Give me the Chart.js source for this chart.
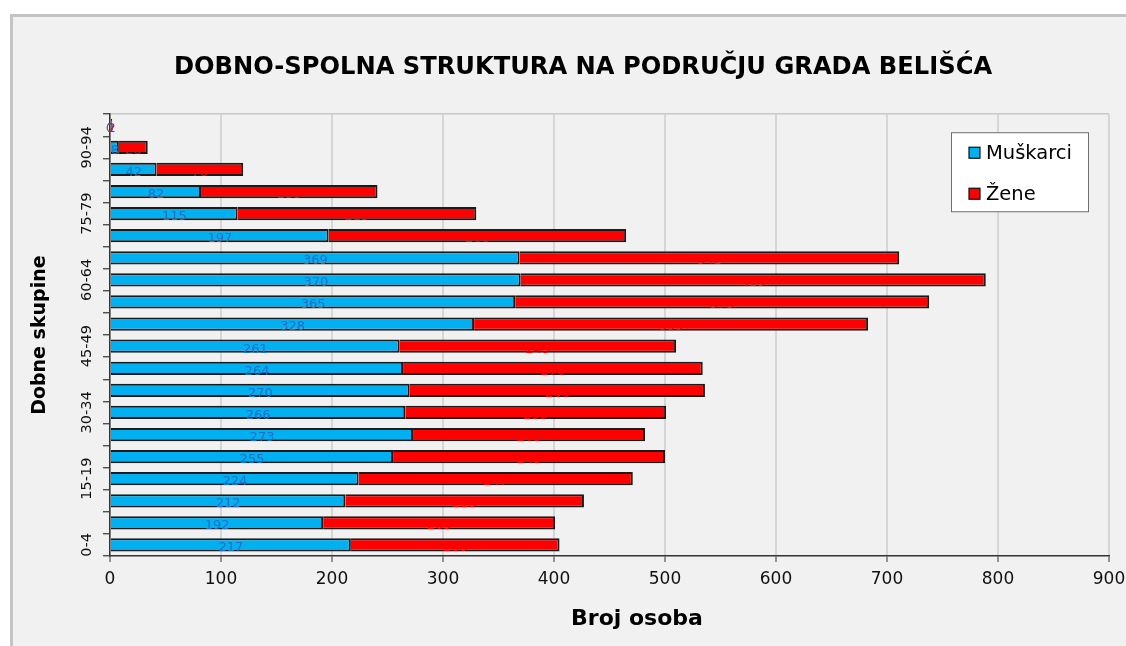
<!DOCTYPE html>
<html>
<head>
<meta charset="utf-8">
<script src="https://cdn.jsdelivr.net/npm/chart.js@4/dist/chart.umd.min.js"></script>
<style>
  html, body { margin: 0; padding: 0; background: #ffffff; }
  #wrap { position: relative; width: 1126px; height: 646px; overflow: hidden; }
  #frame { position: absolute; left: 10px; top: 14px; width: 1200px; height: 700px;
           border-left: 3px solid #c4c4c4; border-top: 3px solid #c4c4c4; background: #f1f1f1; }
  #box { position: absolute; left: 0; top: 0; width: 1126px; height: 646px; }
</style>
</head>
<body>
<div id="wrap">
  <div id="frame"></div>
  <div id="box"><canvas id="c"></canvas></div>
</div>
<script>
const categories = ['0-4','5-9','10-14','15-19','20-24','25-29','30-34','35-39','40-44','45-49',
                    '50-54','55-59','60-64','65-69','70-74','75-79','80-84','85-89','90-94','95+'];
const muskarci = [217,192,212,224,255,273,266,270,264,261,328,365,370,369,197,115,82,42,8,0];
const zene     = [188,209,215,247,245,209,235,266,270,249,355,373,419,342,268,215,159,78,26,2];
const seriesNames = ['Muškarci', 'Žene'];
const xTicks = [0,100,200,300,400,500,600,700,800,900];
const chartTitle = 'DOBNO-SPOLNA STRUKTURA NA PODRUČJU GRADA BELIŠĆA';
const xTitle = 'Broj osoba';
const yTitle = 'Dobne skupine';

const FONT = "'DejaVu Sans', Verdana, sans-serif";
const labelColors = ['#1f6fc4', '#ff0000'];

const barLabels = {
  id: 'barLabels',
  afterDatasetsDraw(chart) {
    const ctx = chart.ctx;
    ctx.save();
    ctx.font = '13px ' + FONT;
    ctx.textAlign = 'center';
    ctx.textBaseline = 'middle';
    chart.data.datasets.forEach((ds, di) => {
      const meta = chart.getDatasetMeta(di);
      meta.data.forEach((el, i) => {
        const p = el.getProps(['x', 'y', 'base'], true);
        ctx.fillStyle = labelColors[di];
        ctx.fillText(String(ds.data[i]), (p.x + p.base) / 2, p.y + 3);
      });
    });
    ctx.restore();
  }
};

const boxLegend = {
  id: 'boxLegend',
  afterDraw(chart) {
    const ctx = chart.ctx;
    const a = chart.chartArea;
    const w = 137, h = 79;
    const x0 = a.right - 20.5 - w, y0 = a.top + 18.5;
    ctx.save();
    ctx.fillStyle = '#ffffff';
    ctx.fillRect(x0, y0, w, h);
    ctx.strokeStyle = '#6f6f6f';
    ctx.lineWidth = 1;
    ctx.strokeRect(x0, y0, w, h);
    ctx.font = '19.5px ' + FONT;
    ctx.textBaseline = 'middle';
    ctx.textAlign = 'left';
    chart.data.datasets.forEach((ds, i) => {
      const cy = y0 + 20 + i * 41;
      ctx.fillStyle = ds.backgroundColor;
      ctx.fillRect(x0 + 17.5, cy - 5.5, 11, 11);
      ctx.strokeStyle = '#111';
      ctx.lineWidth = 1.2;
      ctx.strokeRect(x0 + 17.5, cy - 5.5, 11, 11);
      ctx.fillStyle = '#000';
      ctx.fillText(ds.label, x0 + 34.5, cy + 1);
    });
    ctx.restore();
  }
};

// shift the x-axis title a little to the right, as in the original
const shiftXTitle = {
  id: 'shiftXTitle',
  beforeDraw(chart) {
    const xs = chart.scales.x;
    if (xs && !xs._shiftPatched) {
      const orig = Object.getPrototypeOf(xs).drawTitle;
      xs.drawTitle = function () {
        const ctx = this.ctx;
        ctx.save();
        ctx.translate(27.5, 0);
        orig.call(this);
        ctx.restore();
      };
      xs._shiftPatched = true;
    }
  }
};

new Chart(document.getElementById('c'), {
  type: 'bar',
  data: {
    labels: categories,
    datasets: [
      { label: seriesNames[0], data: muskarci, backgroundColor: '#00b0f0',
        borderColor: '#1a1a1a', borderWidth: 2, barPercentage: 0.6, categoryPercentage: 1 },
      { label: seriesNames[1], data: zene, backgroundColor: '#ff0000',
        borderColor: '#1a1a1a', borderWidth: 2, barPercentage: 0.6, categoryPercentage: 1 }
    ]
  },
  plugins: [barLabels, boxLegend, shiftXTitle],
  options: {
    indexAxis: 'y',
    responsive: true,
    maintainAspectRatio: false,
    animation: false,
    layout: { padding: { left: 40, right: 0, top: 0, bottom: 0 } },
    plugins: {
      legend: { display: false },
      tooltip: { enabled: false },
      title: {
        display: true, text: chartTitle, color: '#000',
        font: { family: FONT, size: 24.2, weight: 'bold' },
        padding: { top: 53.6, bottom: 31.6 }
      }
    },
    scales: {
      x: {
        stacked: true, min: 0, max: 900,
        afterBuildTicks(scale) { scale.ticks = xTicks.map(v => ({ value: v })); },
        afterFit(scale) { scale.height = 90; scale.paddingRight = 17; },
        ticks: { color: '#111', font: { family: FONT, size: 17 }, padding: 7, maxRotation: 0 },
        grid: { color: '#d6d6d6', lineWidth: 2, tickColor: '#333', tickLength: 6, tickWidth: 1 },
        border: { display: true, color: '#333', width: 1.5 },
        title: { display: true, text: xTitle, color: '#000',
                 font: { family: FONT, size: 22, weight: 'bold' }, padding: { top: 0, bottom: 13.8 } }
      },
      y: {
        stacked: true, reverse: true,
        afterFit(scale) { scale.width = 70; },
        ticks: {
          autoSkip: false, minRotation: 90, maxRotation: 90, crossAlign: 'center', padding: -5.5,
          color: '#111', font: { family: FONT, size: 14.5 },
          callback: (v, i) => (i % 3 === 0 ? categories[i] : '')
        },
        grid: {
          offset: true, tickLength: 7, tickColor: '#333', tickWidth: 1.2, lineWidth: 1.5,
          color: (c) => (c.type === 'scale' ? '#c8c8c8' : 'rgba(0,0,0,0)')
        },
        border: { display: true, color: '#333', width: 1.5 },
        title: { display: true, text: yTitle, color: '#000',
                 font: { family: FONT, size: 19, weight: 'bold' }, padding: { top: -11.4, bottom: 0 } }
      }
    }
  }
});
</script>
</body>
</html>
